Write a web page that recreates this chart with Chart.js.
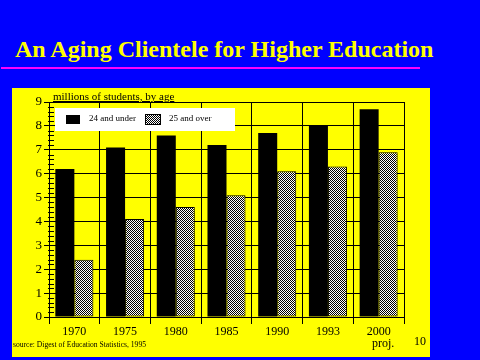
<!DOCTYPE html>
<html>
<head>
<meta charset="utf-8">
<script src="https://cdn.jsdelivr.net/npm/chart.js@4"></script>
<style>
  body { margin: 0; background: #0000ff; width: 480px; height: 360px; overflow: hidden; position: relative; font-family: 'Liberation Serif', 'Times New Roman', serif; }
  #title { position: absolute; left: 15px; top: 36px; color: #ffff00; font-weight: bold; font-size: 24px; white-space: nowrap; }
  #rule { position: absolute; left: 1px; top: 67px; width: 419px; height: 2px; background: #ff00ff; }
  #panel { position: absolute; left: 12px; top: 88px; width: 418px; height: 269px; background: #ffff00; }
  #panel canvas { position: absolute; left: 0; top: 0; }
  .txt { position: absolute; color: #000; white-space: nowrap; }
  #unit { left: 41px; top: 2px; font-size: 11px; line-height: 12px; text-decoration: underline; }
  #legend { position: absolute; left: 43px; top: 20px; width: 180px; height: 23px; background: #fff; }
  .sw { position: absolute; top: 7px; width: 14px; height: 9px; }
  .lbl { position: absolute; top: 5px; font-size: 9px; }
  #source { left: 1px; top: 252px; font-size: 8px; transform-origin: 0 0; transform: scaleX(0.95); }
  #proj { left: 360px; top: 248px; font-size: 12px; }
  #page { left: 402px; top: 246px; font-size: 12px; }
</style>
</head>
<body>
<div id="title">An Aging Clientele for Higher Education</div>
<div id="rule"></div>
<div id="panel">
  <canvas id="chart" width="418" height="269"></canvas>
  <div class="txt" id="unit">millions of students, by age</div>
  <div id="legend"></div>
  <div class="txt" id="source">source: Digest of Education Statistics, 1995</div>
  <div class="txt" id="proj">proj.</div>
  <div class="txt" id="page">10</div>
</div>
<script>
const years = ['1970', '1975', '1980', '1985', '1990', '1993', '2000'];
const under24 = [6.2, 7.1, 7.6, 7.2, 7.7, 8.0, 8.7];
const over25 = [2.4, 4.1, 4.6, 5.1, 6.1, 6.3, 6.9];
const seriesNames = ['24 and under', '25 and over'];
const yMax = 9;
const yStep = 1;
const minorPerStep = 5;

// checker pattern for the second series
const tile = document.createElement('canvas');
tile.width = 2; tile.height = 2;
const tctx = tile.getContext('2d');
tctx.fillStyle = '#fff'; tctx.fillRect(0, 0, 2, 2);
tctx.fillStyle = '#000'; tctx.fillRect(0, 0, 1, 1); tctx.fillRect(1, 1, 1, 1);
const ctx = document.getElementById('chart').getContext('2d');
const checker = ctx.createPattern(tile, 'repeat');

// html legend, white box like the slide
const legend = document.getElementById('legend');
const swatches = ['#000', 'repeating-conic-gradient(#000 0 25%, #fff 0 50%) 0 0 / 2px 2px'];
const swX = [11, 91];
seriesNames.forEach((name, i) => {
    const sw = document.createElement('div');
    sw.className = 'sw';
    sw.style.left = swX[i] + 'px';
    sw.style.background = swatches[i];
    if (i === 1) sw.style.outline = '1px solid #000';
    legend.appendChild(sw);
    const lb = document.createElement('div');
    lb.className = 'lbl';
    lb.style.left = (swX[i] + 23) + 'px';
    lb.textContent = name;
    legend.appendChild(lb);
});

// small ticks between the numbered ones on the value axis
const minorTicks = {
    id: 'minorTicks',
    afterDraw(chart) {
        const y = chart.scales.y;
        const x0 = chart.chartArea.left;
        const c = chart.ctx;
        c.save();
        c.strokeStyle = '#000';
        c.lineWidth = 1;
        c.beginPath();
        for (let v = 0; v < yMax; v += yStep) {
            for (let k = 1; k < minorPerStep; k++) {
                const py = Math.round(y.getPixelForValue(v + k * yStep / minorPerStep)) + 0.5;
                c.moveTo(x0 - 1, py);
                c.lineTo(x0 + 5, py);
            }
        }
        c.stroke();
        c.restore();
    }
};

new Chart(ctx, {
    type: 'bar',
    data: {
        labels: years,
        datasets: [{
            label: seriesNames[0],
            data: under24,
            backgroundColor: '#000',
            borderWidth: 0
        }, {
            label: seriesNames[1],
            data: over25,
            backgroundColor: checker,
            borderColor: '#000',
            borderWidth: 1,
            borderSkipped: false
        }]
    },
    options: {
        responsive: false,
        animation: false,
        layout: { padding: { top: 14, right: 26, left: 0, bottom: 0 } },
        datasets: { bar: { categoryPercentage: 0.75, barPercentage: 1.0 } },
        plugins: { legend: { display: false }, tooltip: { enabled: false } },
        scales: {
            x: {
                afterFit: (s) => { s.height = 40; },
                grid: { color: '#000', lineWidth: 1, tickLength: 7, offset: true },
                border: { color: '#000', width: 1 },
                ticks: { color: '#000', padding: 1, font: { family: "'Liberation Serif', serif", size: 12 } }
            },
            y: {
                min: 0,
                max: yMax,
                afterFit: (s) => { s.width = 37; },
                grid: { color: '#000', lineWidth: 1, tickLength: 5 },
                border: { color: '#000', width: 1 },
                ticks: { stepSize: yStep, color: '#000', padding: 2, font: { family: "'Liberation Serif', serif", size: 13 } }
            }
        }
    },
    plugins: [minorTicks]
});
</script>
</body>
</html>
